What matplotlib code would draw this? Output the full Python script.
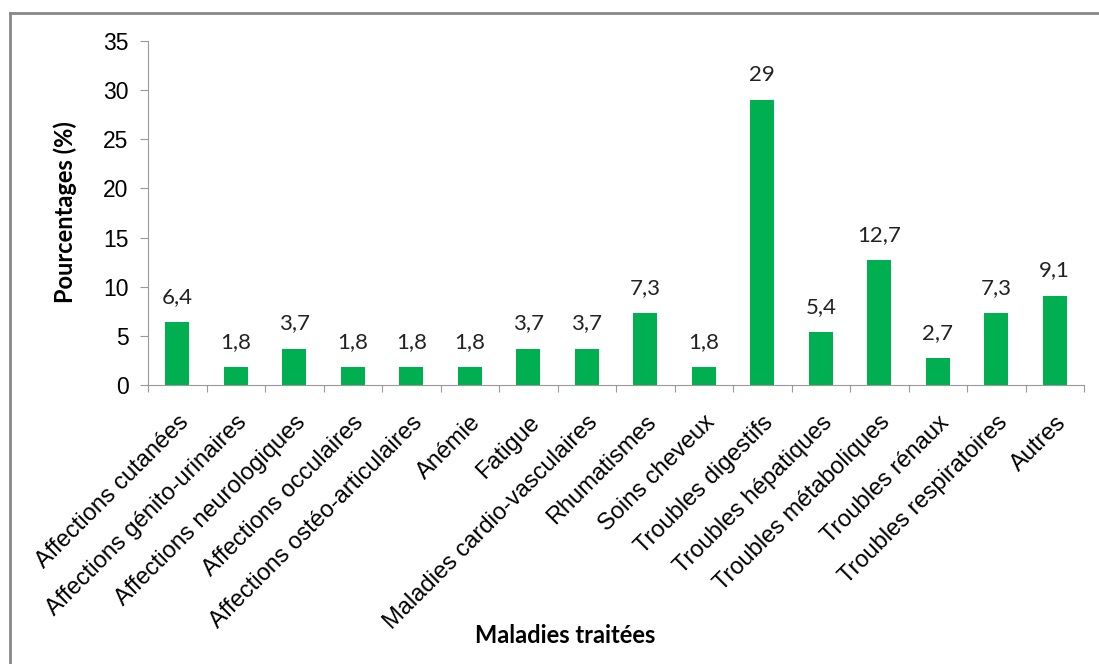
import numpy as np
import matplotlib.pyplot as plt
from matplotlib.lines import Line2D
from matplotlib.transforms import ScaledTranslation

categories = ["Affections cutanées", "Affections génito-urinaires",
              "Affections neurologiques", "Affections occulaires",
              "Affections ostéo-articulaires", "Anémie", "Fatigue",
              "Maladies cardio-vasculaires", "Rhumatismes", "Soins cheveux",
              "Troubles digestifs", "Troubles hépatiques",
              "Troubles métaboliques", "Troubles rénaux",
              "Troubles respiratoires", "Autres"]
values = [6.4, 1.8, 3.7, 1.8, 1.8, 1.8, 3.7, 3.7, 7.3, 1.8, 29, 5.4, 12.7,
          2.7, 7.3, 9.1]
yticks = [0, 5, 10, 15, 20, 25, 30, 35]

fig = plt.figure(figsize=(10.99, 6.64), dpi=100)
ax = fig.add_axes([0.1347, 0.4202, 0.8517, 0.5181])

x = np.arange(len(categories))
ax.bar(x, values, width=0.41, color="#00B050")
ax.set_xlim(-0.5, len(categories) - 0.5)
ax.set_ylim(0, 35)

for xi, v in zip(x, values):
    ax.annotate(f"{v:g}".replace(".", ","), (xi, v), xytext=(0, 11),
                textcoords="offset points", ha="center", va="bottom",
                fontsize=16, family="Lato", color="#222222")

ax.set_yticks(yticks)
ax.set_yticklabels([str(t) for t in yticks], fontsize=16.5,
                   family="Liberation Sans")
ax.set_xticks(np.arange(len(categories) + 1) - 0.5)
ax.set_xticklabels([])
ax.set_xticks(x, minor=True)
ax.set_xticklabels(categories, minor=True, rotation=45, ha="right",
                   rotation_mode="anchor", fontsize=17,
                   family="Liberation Sans")
# excel puts the rotated labels a bit left of the bar centre
shift = ScaledTranslation(-20 / 72, 0, fig.dpi_scale_trans)
for lab in ax.get_xticklabels(minor=True):
    lab.set_transform(lab.get_transform() + shift)
ax.tick_params(axis="x", which="minor", length=0, pad=19)
ax.tick_params(axis="x", which="major", length=5, color="#999999")
ax.tick_params(axis="y", length=6, color="#999999", pad=8)

for s in ["top", "right"]:
    ax.spines[s].set_visible(False)
for s in ["left", "bottom"]:
    ax.spines[s].set_color("#999999")

fig.text(0.059, 0.68, "Pourcentages (%)", rotation=90, ha="center",
         va="center", fontsize=17, fontweight="bold", family="Lato")
fig.text(0.514, 0.043, "Maladies traitées", ha="center", va="center",
         fontsize=17, fontweight="bold", family="Lato")

# frame of the chart area (only top and left visible)
fig.add_artist(Line2D([0.009, 1.0], [0.980, 0.980], color="#888888", lw=2))
fig.add_artist(Line2D([0.009, 0.009], [0.0, 0.980], color="#888888", lw=2))

fig.savefig("out.png", dpi=100)
